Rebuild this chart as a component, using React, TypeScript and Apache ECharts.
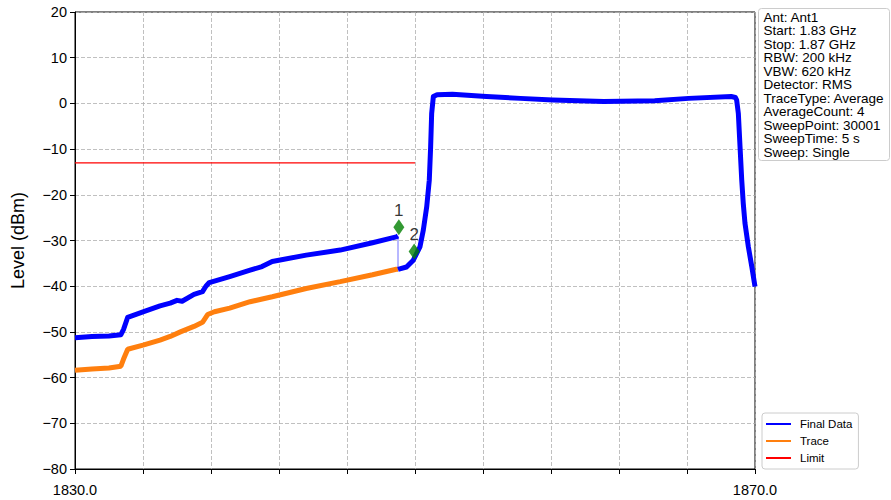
import React, { useEffect, useRef } from "react";
import * as echarts from "echarts";

const F0 = 1830;
const F1 = 1870;

// Final Data (blue), part 1 : frequency (MHz), level (dBm)
const finalFreqA = [1830.0, 1831.0, 1832.0, 1832.7, 1832.85, 1833.1, 1834.0, 1835.0, 1835.6, 1836.0, 1836.3, 1837.0, 1837.5, 1837.7, 1837.9, 1839.1, 1840.3, 1841.0, 1841.6, 1843.6, 1845.6, 1847.5, 1848.9, 1849.0];
const finalLevelA = [-51.3, -51.0, -50.9, -50.6, -49.5, -46.8, -45.6, -44.3, -43.7, -43.1, -43.3, -41.8, -41.2, -40.0, -39.2, -37.9, -36.5, -35.7, -34.6, -33.2, -32.1, -30.5, -29.2, -29.0];
// Final Data (blue), part 2
const finalFreqB = [1849.0, 1849.5, 1849.9, 1850.29, 1850.49, 1850.69, 1850.84, 1850.92, 1850.98, 1851.08, 1851.3, 1852.2, 1854.2, 1856.2, 1858.1, 1861.1, 1864.1, 1866.1, 1868.6, 1868.85, 1868.92, 1869.02, 1869.12, 1869.22, 1869.31, 1869.41, 1869.61, 1869.81, 1870.0];
const finalLevelB = [-36.3, -35.8, -34.3, -31.4, -27.7, -22.6, -16.8, -9.5, -2.2, 1.5, 1.9, 2.0, 1.5, 1.1, 0.75, 0.4, 0.6, 1.1, 1.5, 1.3, 0.75, -2.2, -9.5, -16.8, -21.9, -26.2, -31.4, -35.7, -40.1];

// Trace (orange)
const traceFreq = [1830.0, 1831.0, 1832.0, 1832.7, 1832.85, 1833.1, 1834.0, 1835.0, 1835.6, 1836.2, 1837.0, 1837.5, 1837.8, 1838.2, 1839.1, 1840.3, 1841.6, 1843.6, 1845.6, 1847.5, 1848.9, 1849.0];
const traceLevel = [-58.4, -58.1, -57.9, -57.5, -56.0, -53.8, -52.9, -51.8, -51.0, -50.0, -48.8, -47.9, -46.2, -45.6, -44.8, -43.4, -42.3, -40.5, -39.0, -37.5, -36.3, -36.3];

// Limit (red)
const limitFreq = [1830, 1850];
const limitLevel = [-13, -13];

// Markers
const markerNames = ["1", "2"];
const markerFreq = [1849.05, 1849.95];
const markerLevel = [-27.1, -32.4];

const yTicks = { min: -80, max: 20, step: 10 };
const xStep = 4;

const infoLines = [
  "Ant: Ant1",
  "Start: 1.83 GHz",
  "Stop: 1.87 GHz",
  "RBW: 200 kHz",
  "VBW: 620 kHz",
  "Detector: RMS",
  "TraceType: Average",
  "AverageCount: 4",
  "SweepPoint: 30001",
  "SweepTime: 5 s",
  "Sweep: Single",
];

const FONT = "'Liberation Sans', Arial, sans-serif";

const pts = (fs: number[], vs: number[]) => fs.map((f, i) => [f - F0, vs[i]]);

export default function App() {
  const ref = useRef<HTMLDivElement>(null);
  useEffect(() => {
    if (!ref.current) return;
    const chart = echarts.init(ref.current, null, { renderer: "svg" });
    const finalData = [
      ...pts(finalFreqA, finalLevelA),
      null,
      ...pts(finalFreqB, finalLevelB),
    ].map((p) => (p === null ? ["-", "-"] : p));
    const connector = [
      [finalFreqA[finalFreqA.length - 1] - F0, finalLevelA[finalLevelA.length - 1]],
      [finalFreqB[0] - F0, finalLevelB[0]],
    ];
    const option: any = {
      animation: false,
      textStyle: { fontFamily: FONT },
      grid: {
        left: 75,
        right: 136,
        top: 12,
        bottom: 31,
        show: true,
        borderColor: "#000",
        borderWidth: 1,
        backgroundColor: "transparent",
      },
      xAxis: {
        type: "value",
        min: 0,
        max: F1 - F0,
        interval: xStep,
        axisLine: { show: true, onZero: false, lineStyle: { color: "#000", width: 1 } },
        axisTick: { show: true, length: 5, lineStyle: { color: "#000" } },
        axisLabel: {
          show: true,
          margin: 13,
          color: "#000",
          fontSize: 14.5,
          fontFamily: FONT,
          showMinLabel: true,
          showMaxLabel: true,
          formatter: (v: number) =>
            v === 0 || v === F1 - F0 ? (v + F0).toFixed(1) : "",
        },
        splitLine: {
          show: true,
          lineStyle: { color: "#b0b0b0", type: [4, 2], width: 0.8 },
        },
      },
      yAxis: {
        type: "value",
        min: yTicks.min,
        max: yTicks.max,
        interval: yTicks.step,
        name: "Level (dBm)",
        nameLocation: "middle",
        nameGap: 48,
        nameTextStyle: { fontSize: 18, color: "#000", fontFamily: FONT },
        axisLine: { show: true, onZero: false, lineStyle: { color: "#000", width: 1 } },
        axisTick: { show: true, length: 5, lineStyle: { color: "#000" } },
        axisLabel: {
          margin: 8,
          color: "#000",
          fontSize: 14.5,
          fontFamily: FONT,
          formatter: (v: number) => (v < 0 ? "\u2212" + Math.abs(v) : String(v)),
        },
        splitLine: {
          show: true,
          lineStyle: { color: "#b0b0b0", type: [4, 2], width: 0.8 },
        },
      },
      legend: {
        data: ["Final Data", "Trace", "Limit"],
        orient: "vertical",
        left: 762,
        top: 413,
        icon: "rect",
        itemWidth: 25,
        itemHeight: 2,
        itemGap: 5,
        padding: [5, 6, 5, 4],
        borderColor: "#ccc",
        borderWidth: 1,
        borderRadius: 3,
        textStyle: {
          fontSize: 11.5,
          lineHeight: 12,
          color: "#000",
          fontFamily: FONT,
          padding: [0, 0, 0, 4],
        },
      },
      graphic: [
        {
          type: "group",
          left: 758,
          top: 8,
          children: [
            {
              type: "rect",
              shape: { x: 0, y: 0, width: 131, height: 152, r: 3 },
              style: { fill: "rgba(255,255,255,0.85)", stroke: "#ccc", lineWidth: 1 },
            },
            {
              type: "text",
              x: 5,
              y: 2,
              style: {
                text: infoLines.join("\n"),
                fontSize: 13.5,
                lineHeight: 13.5,
                fill: "#000",
                fontFamily: FONT,
              },
            },
          ],
        },
      ],
      series: [
        {
          name: "Limit",
          type: "line",
          data: pts(limitFreq, limitLevel),
          showSymbol: false,
          lineStyle: { color: "#f00", width: 1.3 },
          itemStyle: { color: "#f00" },
          z: 3,
        },
        {
          name: "Trace",
          type: "line",
          data: pts(traceFreq, traceLevel),
          showSymbol: false,
          lineStyle: { color: "#ff7f0e", width: 5 },
          itemStyle: { color: "#ff7f0e" },
          z: 4,
        },
        {
          name: "connector",
          type: "line",
          data: connector,
          showSymbol: false,
          lineStyle: { color: "#7070ff", width: 1 },
          z: 5,
        },
        {
          name: "Final Data",
          type: "line",
          data: finalData,
          connectNulls: false,
          showSymbol: false,
          lineStyle: { color: "#0000ff", width: 5, join: "round" },
          itemStyle: { color: "#0000ff" },
          z: 5,
        },
        {
          name: "Markers",
          type: "scatter",
          data: markerFreq.map((f, i) => ({
            value: [f - F0, markerLevel[i]],
            name: markerNames[i],
          })),
          symbol: "diamond",
          symbolSize: [11, 16],
          itemStyle: { color: "#008000" },
          label: {
            show: true,
            position: "top",
            distance: 0,
            formatter: (p: any) => p.name,
            fontSize: 17,
            color: "#000",
            fontFamily: FONT,
          },
          z: 6,
        },
      ],
    };
    chart.setOption(option);
    return () => chart.dispose();
  }, []);
  return (
    <div
      ref={ref}
      style={{ position: "fixed", left: 0, top: 0, width: 891, height: 500, background: "#fff" }}
    />
  );
}
